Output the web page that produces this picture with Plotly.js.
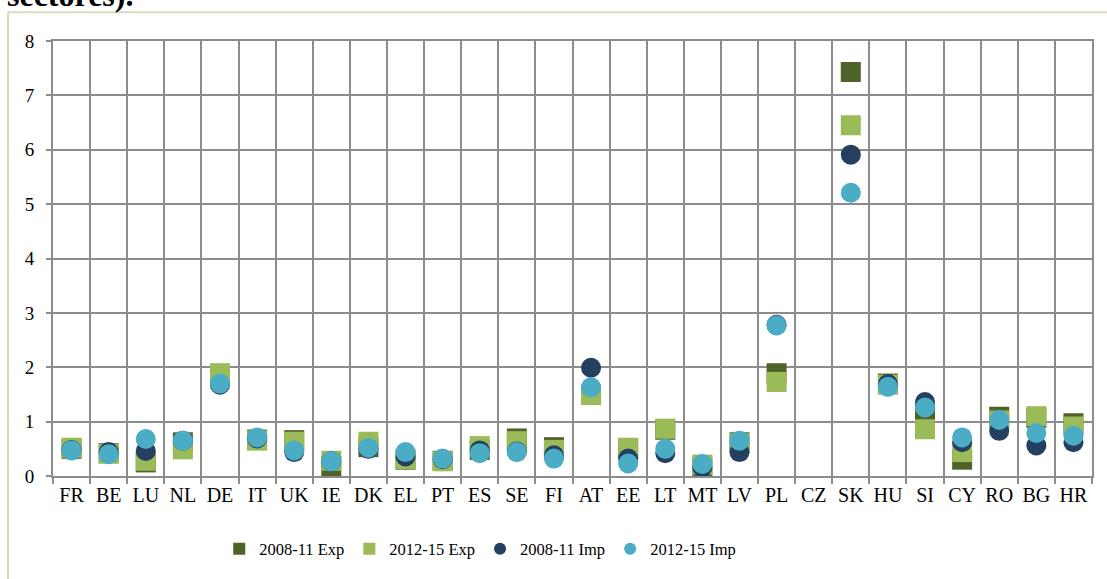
<!DOCTYPE html>
<html>
<head>
<meta charset="utf-8">
<script src="https://cdn.plot.ly/plotly-3.0.1.min.js"></script>
<style>html,body{margin:0;padding:0;background:#fff;}#chart{width:1107px;height:579px;}</style>
</head>
<body>
<div id="chart"></div>
<script>
const categories = ['FR','BE','LU','NL','DE','IT','UK','IE','DK','EL','PT','ES','SE','FI','AT','EE','LT','MT','LV','PL','CZ','SK','HU','SI','CY','RO','BG','HR'];
const exp0811 = [0.50,0.42,0.25,0.62,1.85,0.67,0.66,0.18,0.53,0.30,0.28,0.48,0.69,0.53,1.50,0.50,0.85,0.15,0.62,1.89,null,7.43,1.70,1.15,0.30,1.09,1.07,0.97];
const exp1215 = [0.52,0.41,0.28,0.49,1.89,0.65,0.63,0.28,0.63,0.31,0.27,0.55,0.64,0.48,1.49,0.52,0.87,0.21,0.60,1.73,null,6.45,1.68,0.86,0.44,1.02,1.10,0.91];
const imp0811 = [0.48,0.44,0.46,0.65,1.68,0.69,0.44,0.27,0.50,0.36,0.31,0.47,0.45,0.38,1.99,0.32,0.42,0.16,0.44,2.78,null,5.91,1.69,1.36,0.62,0.83,0.56,0.62];
const imp1215 = [0.47,0.40,0.68,0.65,1.70,0.71,0.47,0.27,0.52,0.44,0.32,0.42,0.44,0.32,1.63,0.23,0.50,0.22,0.65,2.77,null,5.21,1.64,1.26,0.71,1.03,0.79,0.74];
const seriesNames = ['2008-11 Exp','2012-15 Exp','2008-11 Imp','2012-15 Imp'];
const yTicks = [0,1,2,3,4,5,6,7,8];

const FONT = '"Liberation Serif", "Times New Roman", serif';
const GRID = '#8c8c8c';

function tr(name, y, color, symbol) {
  return {
    type: 'scatter', mode: 'markers', name: name,
    x: categories, y: y,
    marker: {color: color, symbol: symbol, size: 20, line: {width: 0}},
    hoverinfo: 'x+y+name'
  };
}
const data = [
  tr(seriesNames[0], exp0811, '#4f6228', 'square'),
  tr(seriesNames[1], exp1215, '#9bbb59', 'square'),
  tr(seriesNames[2], imp0811, '#243f60', 'circle'),
  tr(seriesNames[3], imp1215, '#4bacc6', 'circle')
];

const layout = {
  width: 1107, height: 579,
  margin: {l: 53, r: 15, t: 41, b: 100},
  paper_bgcolor: '#ffffff', plot_bgcolor: '#ffffff',
  font: {family: FONT, size: 19, color: '#000'},
  showlegend: true,
  legend: {
    orientation: 'h', x: 0.16, xanchor: 'left', y: -0.168, yanchor: 'middle',
    font: {family: FONT, size: 16.5, color: '#000'},
    itemsizing: 'constant', traceorder: 'normal', bgcolor: 'rgba(0,0,0,0)'
  },
  xaxis: {
    type: 'category', categoryorder: 'array', categoryarray: categories,
    range: [-0.5, categories.length - 0.5],
    tickson: 'boundaries', showgrid: true, gridcolor: GRID, gridwidth: 2,
    ticks: 'outside', ticklen: 6, tickwidth: 2, tickcolor: GRID,
    showline: true, linecolor: GRID, linewidth: 2, mirror: true,
    tickangle: 0,
    tickfont: {family: FONT, size: 20, color: '#000'},
    fixedrange: true
  },
  yaxis: {
    range: [0, 8], tickvals: yTicks, ticktext: yTicks.map(String),
    showgrid: true, gridcolor: GRID, gridwidth: 2, zeroline: false,
    ticks: 'outside', ticklen: 5, tickwidth: 2, tickcolor: GRID,
    showline: true, linecolor: GRID, linewidth: 2, mirror: true,
    tickfont: {family: FONT, size: 19, color: '#000'},
    ticklabelstandoff: 8,
    fixedrange: true
  },
  shapes: [
    {type: 'line', xref: 'paper', yref: 'paper', x0: -0.0433, x1: 1.05, y0: 1.0662, y1: 1.0662, line: {color: '#dcd8bd', width: 2}},
    {type: 'line', xref: 'paper', yref: 'paper', x0: -0.0433, x1: -0.0433, y0: 1.0662, y1: -0.3, line: {color: '#dcd8bd', width: 2}}
  ],
  annotations: [
    {text: '<b>sectores).</b>', xref: 'paper', yref: 'paper', x: -0.046, y: 1.059, xanchor: 'left', yanchor: 'bottom',
     showarrow: false, font: {family: FONT, size: 32, color: '#000'}}
  ]
};

Plotly.newPlot('chart', data, layout, {displayModeBar: false, staticPlot: true});
</script>
</body>
</html>
